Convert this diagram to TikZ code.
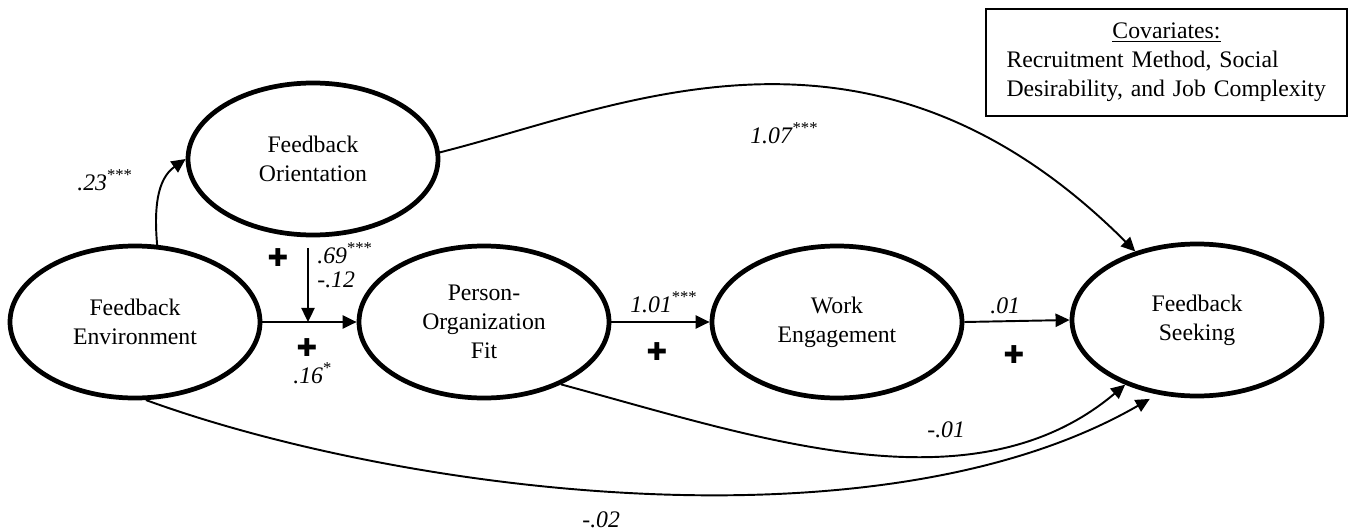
\documentclass[tikz,border=0pt]{standalone}
\usepackage{fontspec}
\setmainfont{Liberation Serif}
\newfontfamily\crossfont{DejaVu Sans}
\usetikzlibrary{arrows.meta,shapes.geometric}
\def\coef#1#2{\textit{#1}\textsuperscript{#2}}

\begin{document}
\begin{tikzpicture}[
		font=\fontsize{13.5}{16.4}\selectfont,
		latent/.style={draw, ellipse, line width=2.7pt, minimum width=5cm, minimum height=3.04cm, align=center, inner sep=0pt},
		effect/.style={line width=1.1pt, -{Triangle[length=8pt,width=7.5pt]}},
		coeflbl/.style={anchor=base west, inner sep=0pt},
		plus/.style={font=\crossfont\fontsize{14}{14}\selectfont, inner sep=0pt}
	]
		%%%%% START %%%%%
		\useasboundingbox (0, 0) rectangle (26.98, -10.62);
		
		\node[latent] (fe) at (2.70, -6.44) {Feedback\\Environment};
		\node[latent] (fo) at (6.26, -3.18) {Feedback\\Orientation};
		\node[latent] (pof) at (9.68, -6.44) {Person-\\Organization\\Fit};
		\node[latent] (we) at (16.74, -6.44) {Work\\Engagement};
		\node[latent] (fs) at (23.94, -6.40) {Feedback\\Seeking};
		
		\node[draw, line width=1.1pt, minimum width=7.22cm, minimum height=2.14cm, text width=6.4cm, align=left, inner sep=0pt] (cov) at (23.33, -1.25)
			{\makebox[6.4cm]{\underline{Covariates:}}\\Recruitment Method, Social\\Desirability, and Job Complexity};
		
		\coordinate (modtop) at (6.16, -4.96);
		
		\draw[effect] (fe.74) to[out=95, in=215] (fo.west);
		\draw[effect] (fe.east) -- (pof.west);
		\draw[effect] (modtop) -- (modtop |- fe.east);
		\draw[effect] (pof.east) -- (we.west);
		\draw[effect] (we.east) -- (fs.west);
		\draw[effect] (fo.3) .. controls +(3.6, 0.9) and +(-5.3, 5.3) .. (fs.132);
		\draw[effect] (pof.-39) .. controls +(3.86, -1.04) and +(-3.06, -2.58) .. (fs.222);
		\draw[effect, shorten >=5pt] (fe.-82) .. controls +(5.06, -1.84) and +(-5.58, -3.22) .. (fs.242);
		
		\node[coeflbl] (lfefo) at (1.54, -3.80) {\coef{.23}{***}};
		\node[coeflbl] (lmoda) at (6.34, -5.26) {\coef{.69}{***}};
		\node[coeflbl] (lmodb) at (6.34, -5.74) {\textit{-.12}};
		\node[coeflbl] (lfepof) at (5.86, -7.66) {\coef{.16}{*}};
		\node[coeflbl] (lpofwe) at (12.60, -6.24) {\coef{1.01}{***}};
		\node[coeflbl] (lwefs) at (19.80, -6.26) {\textit{.01}};
		\node[coeflbl] (lfofs) at (15.00, -2.86) {\coef{1.07}{***}};
		\node[coeflbl] (lpoffs) at (18.54, -8.74) {\textit{-.01}};
		\node[coeflbl] (lfefs) at (11.64, -10.54) {\textit{-.02}};
		
		\node[plus] (plusa) at (5.56, -5.16) {✚};
		\node[plus] (plusb) at (6.14, -6.96) {✚};
		\node[plus] (plusc) at (13.14, -7.04) {✚};
		\node[plus] (plusd) at (20.28, -7.10) {✚};
		%%%%% END %%%%%
	\end{tikzpicture}
\end{document}
